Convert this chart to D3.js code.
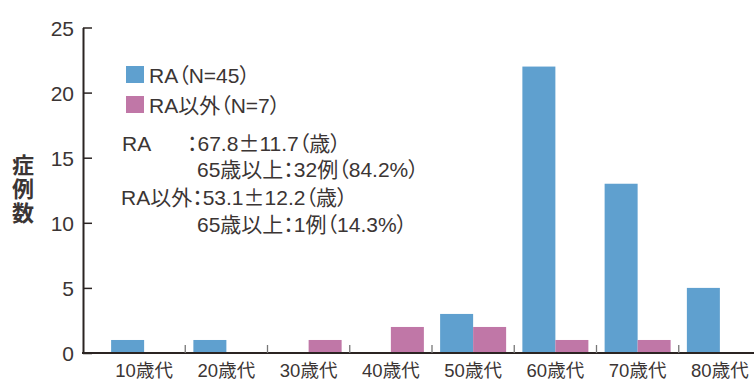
<!DOCTYPE html>
<html><head><meta charset="utf-8">
<script src="https://cdn.jsdelivr.net/npm/d3@7"></script>
<style>
html,body{margin:0;padding:0;background:#fff;}
svg{display:block;}
text{font-family:"Liberation Sans","Noto Sans CJK JP",sans-serif;fill:#3b3534;font-feature-settings:"palt" 1;}
.cjk{font-family:"Noto Sans CJK JP",sans-serif;}
</style></head>
<body>
<svg id="c" width="754" height="381"></svg>
<script>
const categories = ["10歳代","20歳代","30歳代","40歳代","50歳代","60歳代","70歳代","80歳代"];
const seriesNames = ["RA（N=45）","RA以外（N=7）"];
const raValues = [1,1,0,0,3,22,13,5];
const otherValues = [0,0,1,2,2,1,1,0];
const yTicks = [0,5,10,15,20,25];
const colors = ["#5fa0cf","#c077a7"];
const notes = [
  ["RA", "：67.8±11.7（歳）"],
  ["", "65歳以上：32例（84.2%）"],
  ["", "RA以外：53.1±12.2（歳）"],
  ["", "65歳以上：1例（14.3%）"]
];

const svg = d3.select("#c");
const axisX0 = 83, plotLeft = 103, plotRight = 761;
const y = d3.scaleLinear().domain([0,25]).range([353,27.5]);
const x = d3.scaleBand().domain(categories).range([plotLeft, plotRight]).paddingInner(0).paddingOuter(0);
const sub = d3.scaleBand().domain([0,1]).range([0, x.bandwidth()]).paddingInner(0).paddingOuter(0.246);

// bars
const data = categories.map((c,i)=>({c, v:[raValues[i], otherValues[i]]}));
const g = svg.append("g");
data.forEach(d=>{
  d.v.forEach((v,j)=>{
    if(v<=0) return;
    g.append("rect")
      .attr("x", x(d.c)+sub(j))
      .attr("y", y(v))
      .attr("width", sub.bandwidth())
      .attr("height", y(0)-y(v))
      .attr("fill", colors[j]);
  });
});

// y axis
const yAxis = d3.axisLeft(y).tickValues(yTicks).tickSizeInner(-9).tickSizeOuter(0).tickPadding(9);
const ya = svg.append("g").attr("transform", `translate(${axisX0},0)`).call(yAxis);
ya.select(".domain").attr("stroke","#2b2422").attr("stroke-width",2);
ya.selectAll(".tick line").attr("stroke","#2b2422").attr("stroke-width",1.5);
ya.selectAll(".tick text").attr("font-size",21).attr("fill","#3b3534").attr("dy","0.36em")
  .style("font-family","'Liberation Sans',Arial,sans-serif");

// x axis line
svg.append("line").attr("x1",axisX0-1).attr("x2",754).attr("y1",y(0)).attr("y2",y(0))
  .attr("stroke","#2b2422").attr("stroke-width",2.2);
// boundary ticks
categories.slice(1).forEach(c=>{
  svg.append("line").attr("x1",x(c)).attr("x2",x(c)).attr("y1",y(0)).attr("y2",y(0)-8)
    .attr("stroke","#777").attr("stroke-width",1.3);
});
// x labels
categories.forEach(c=>{
  svg.append("text").attr("x", x(c)+x.bandwidth()/2).attr("y", 377)
    .attr("text-anchor","middle").attr("font-size",18.5).text(c);
});

// y title (vertical)
svg.append("text").attr("x",23).attr("y",154)
  .attr("writing-mode","vertical-rl").attr("font-size",22).attr("font-weight",700)
  .attr("letter-spacing",2).attr("fill","#2b2422")
  .style("font-family","'Noto Sans CJK JP',sans-serif").text("症例数");

// legend
seriesNames.forEach((s,i)=>{
  svg.append("rect").attr("x",126).attr("y",66+i*30).attr("width",18).attr("height",17).attr("fill",colors[i]);
  svg.append("text").attr("x",149).attr("y",83+i*30).attr("font-size",21).text(s);
});

// notes (one text block with line tspans)
const noteText = svg.append("text").attr("font-size",21);
notes.forEach((n,i)=>{
  const yy = [151,177,205,232][i];
  if(n[0]) noteText.append("tspan").attr("x",122).attr("y",yy).text(n[0]);
  const sx = n[1].startsWith("：") ? 187 : (n[1].startsWith("RA") ? 121 : 197);
  const parts = n[1].split("±");
  parts.forEach((p,k)=>{
    const t = noteText.append("tspan").text(p);
    if(k===0) t.attr("x",sx).attr("y",yy);
    if(k<parts.length-1) noteText.append("tspan").attr("class","cjk").text("±");
  });
});
</script>
</body></html>
